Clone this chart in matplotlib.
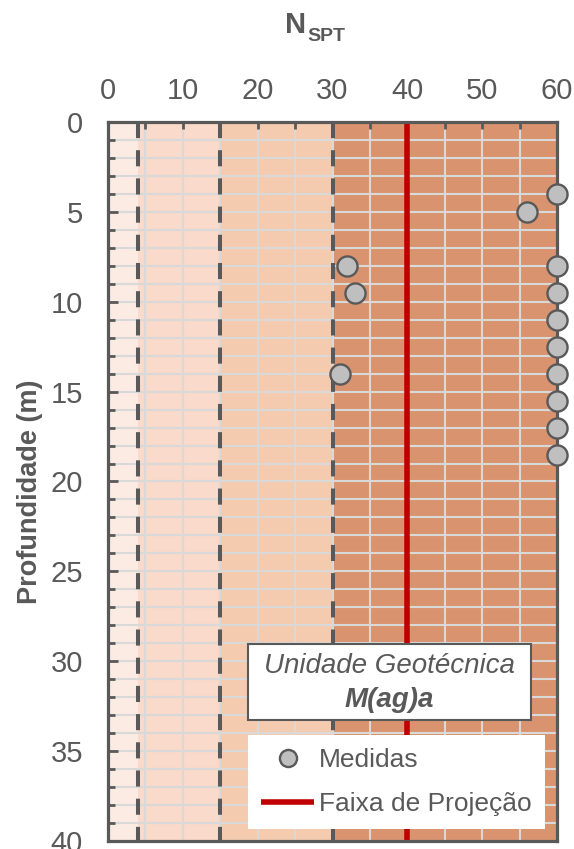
import matplotlib
import matplotlib.pyplot as plt
from matplotlib.patches import Rectangle
from matplotlib.ticker import MultipleLocator
matplotlib.use('Agg')

# dados do ensaio SPT
nspt_medidas = [60, 56, 32, 60, 33, 60, 60, 60, 31, 60, 60, 60, 60]
prof_medidas = [4, 5, 8, 8, 9.5, 9.5, 11, 12.5, 14, 14, 15.5, 17, 18.5]

# faixas de consistencia (limites de NSPT) e cores
faixas_limites = [0, 4, 15, 30, 60]
faixas_cores = ["#FCEBE3", "#F9DACB", "#F5CBB0", "#D9946F"]
limites_tracejados = [4, 15, 30]

# faixa de projecao
nspt_projecao = [40, 40]
prof_projecao = [0, 40]

x_ticks = [0, 10, 20, 30, 40, 50, 60]
y_ticks = [0, 5, 10, 15, 20, 25, 30, 35, 40]

cinza = "#595959"
plt.rcParams['font.family'] = ['Liberation Sans', 'DejaVu Sans']

fig = plt.figure(figsize=(5.74, 8.49), dpi=100)
ax = fig.add_axes([0.1882, 0.00942, 0.7822, 0.8469])

for i, cor in enumerate(faixas_cores):
    ax.axvspan(faixas_limites[i], faixas_limites[i + 1], color=cor, lw=0, zorder=0)

ax.set_xlim(0, 60)
ax.set_ylim(40, 0)

ax.xaxis.set_minor_locator(MultipleLocator(5))
ax.yaxis.set_minor_locator(MultipleLocator(1))
ax.set_xticks(x_ticks)
ax.set_yticks(y_ticks)

ax.grid(True, which='both', color="#D9D9D9", lw=1.5)
ax.set_axisbelow(True)

for xl in limites_tracejados:
    ax.plot([xl, xl], [0, 40], color=cinza, lw=2.9, dashes=(4, 3), zorder=2)

ax.plot(nspt_projecao, prof_projecao, color="#C00000", lw=4,
        solid_capstyle='butt', zorder=3, label="Faixa de Projeção")

ax.plot(nspt_medidas, prof_medidas, 'o', ms=14.5, mfc="#BFBFBF", mec=cinza,
        mew=1.7, zorder=6, clip_on=False, label="Medidas")

ax.xaxis.tick_top()
ax.tick_params(axis='x', which='both', direction='in', length=5, width=2,
               color=cinza, labelsize=21, labelcolor=cinza, pad=12)
ax.tick_params(axis='y', which='major', direction='in', length=7, width=2,
               color=cinza, labelsize=21, labelcolor=cinza, pad=18)
ax.tick_params(axis='y', which='minor', direction='in', length=5, width=2, color=cinza)

for s in ax.spines.values():
    s.set_color(cinza)
    s.set_linewidth(2.3)
    s.set_zorder(5)

# caixa da unidade geotecnica
caixa = Rectangle((0.3118, 0.168), 0.630, 0.106, transform=ax.transAxes,
                  facecolor='white', edgecolor=cinza, lw=1.5, zorder=7)
ax.add_patch(caixa)
ax.text(0.627, 0.2434, "Unidade Geotécnica", transform=ax.transAxes,
        ha='center', va='center', fontsize=20, style='italic', color=cinza, zorder=8)
ax.text(0.627, 0.196, "M(ag)a", transform=ax.transAxes, ha='center', va='center',
        fontsize=20, style='italic', fontweight='bold', color=cinza, zorder=8)

handles, labels = ax.get_legend_handles_labels()
leg = ax.legend(handles[::-1], labels[::-1], loc='lower left',
                bbox_to_anchor=(0.312, 0.0167), borderaxespad=0, frameon=True,
                fancybox=False, facecolor='white', edgecolor='none', framealpha=1,
                fontsize=19, handlelength=2.0, handletextpad=0.2, labelspacing=0.75,
                borderpad=0.5, markerscale=0.85)
leg.set_zorder(9)
for t in leg.get_texts():
    t.set_color(cinza)

# titulo N_SPT (N grande + subscrito)
fig.text(306 / 574, 1 - 33 / 849, "N", ha='right', va='baseline',
         fontsize=21, fontweight='bold', color=cinza)
fig.text(307 / 574, 1 - 41 / 849, "SPT", ha='left', va='baseline',
         fontsize=14, fontweight='bold', color=cinza)
fig.text(30 / 574, 1 - 492 / 849, "Profundidade (m)", rotation=90, ha='center',
         va='center', fontsize=19.5, fontweight='bold', color=cinza)

plt.savefig("out.png", dpi=100, facecolor='white')
plt.close(fig)
